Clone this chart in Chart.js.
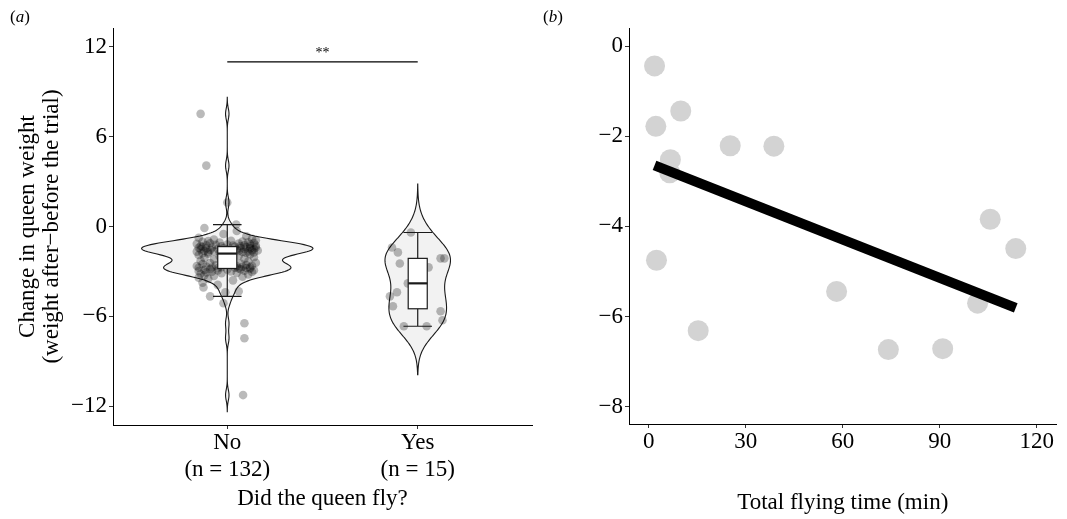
<!DOCTYPE html>
<html>
<head>
<meta charset="utf-8">
<script src="https://cdn.jsdelivr.net/npm/chart.js@4.4.1/dist/chart.umd.min.js"></script>
<style>
    html, body { margin: 0; padding: 0; background: #fff; }
    #wrap { position: relative; width: 1067px; height: 519px; overflow: hidden; }
    .panel { position: absolute; top: 0; height: 519px; }
    #panelA { left: 0; width: 540px; }
    #panelB { left: 540px; width: 527px; }
</style>
</head>
<body>
<div id="wrap">
    <div class="panel" id="panelA"><canvas id="violinChart"></canvas></div>
    <div class="panel" id="panelB"><canvas id="flightChart"></canvas></div>
</div>
<script>
// ---- данные панели (a) ----
const groups = ['No', 'Yes'];
// изменение веса матки, не летавшие (n = 132)
const noValues = [
    7.53, 4.07, 1.6, 0.13,
    -0.1, -0.3, -0.5, -0.65, -0.75, -0.82, -0.88, -0.92, -0.95, -0.98,
    -1.0, -1.03, -1.05, -1.08, -1.1, -1.12, -1.14, -1.16, -1.18, -1.2,
    -1.22, -1.24, -1.26, -1.27, -1.28, -1.3, -1.31, -1.32, -1.33,
    -1.35, -1.37, -1.38, -1.4, -1.4, -1.42, -1.44, -1.45, -1.46, -1.47,
    -1.48, -1.5, -1.5, -1.52, -1.53, -1.55, -1.56, -1.58, -1.6, -1.6,
    -1.62, -1.63, -1.65, -1.66, -1.68, -1.7, -1.7, -1.72, -1.74, -1.75,
    -1.77, -1.78, -1.8,
    -1.82, -1.86, -1.9, -1.95, -2.0, -2.05, -2.1, -2.15, -2.2, -2.25,
    -2.3, -2.34, -2.38, -2.42, -2.45, -2.48, -2.51, -2.54, -2.57, -2.6,
    -2.62, -2.64, -2.66, -2.68, -2.7, -2.72, -2.73, -2.74, -2.75, -2.76,
    -2.77, -2.78, -2.8,
    -11.27, -7.47, -6.47, -5.13,
    -4.67, -4.4, -4.33, -4.07, -3.9, -3.75, -3.6, -3.5, -3.42, -3.35,
    -3.3, -3.25, -3.2, -3.16, -3.12, -3.1, -3.07, -3.04, -3.02, -3.0,
    -2.98, -2.96, -2.94, -2.92, -2.9, -2.88, -2.86, -2.84, -2.82
];
// горизонтальный разброс точек (jitter), в долях категории
const noJitter = [
    -0.14, -0.11, 0.0, 0.047,
    -0.12, 0.05, -0.02, 0.1, -0.15, 0.13, -0.07, 0.15, 0.02, -0.1,
    0.08, -0.13, 0.11, -0.04, 0.14, -0.09, 0.06, -0.16, 0.12, 0.0,
    -0.06, 0.09, -0.11, 0.03, 0.15, -0.14, 0.07, -0.03, 0.12,
    0.04, -0.13, 0.1, -0.08, 0.15, -0.15, 0.07, -0.02, 0.12, -0.11,
    0.01, 0.14, -0.05, 0.09, -0.14, 0.05, -0.09, 0.13, -0.01, 0.16,
    -0.12, 0.06, -0.07, 0.11, -0.16, 0.03, 0.08, -0.1, 0.14, -0.04,
    0.1, -0.13, 0.02,
    -0.1, 0.12, -0.15, 0.06, -0.04, 0.14, -0.12, 0.09, -0.07, 0.03,
    -0.14, 0.11, -0.02, 0.15, -0.09, 0.07, -0.13, 0.01, 0.1, -0.06,
    0.13, -0.16, 0.05, -0.11, 0.08, -0.03, 0.12, -0.08, 0.04, -0.15,
    0.1, -0.05, 0.06,
    0.083, 0.09, 0.09, -0.02,
    -0.09, -0.01, 0.06, -0.125, -0.05, -0.13, 0.03, -0.1, -0.15, 0.08,
    -0.07, -0.12, 0.11, -0.14, -0.03, 0.05, -0.11, 0.13, -0.08, 0.02,
    -0.15, 0.09, -0.05, 0.14, -0.12, 0.0, 0.07, -0.09, 0.12
];
// летавшие (n = 15)
const yesValues = [-0.4, -1.4, -1.73, -2.47, -2.73, -2.13, -2.13, -4.67, -4.4, -5.33, -5.67, -6.27, -6.67, -6.67, -3.8];
const yesJitter = [-0.036, -0.135, -0.104, -0.094, 0.057, 0.12, 0.14, -0.146, -0.109, -0.13, 0.12, 0.13, -0.073, 0.047, -0.052];
const weightTicks = [-12, -6, 0, 6, 12];
const sigLabel = '**';
const sigLevel = 11;

// ---- данные панели (b) ----
const flyTime = [1.8, 2.2, 9.9, 6.7, 6.5, 25.2, 38.7, 2.4, 105.6, 113.5, 58.1, 101.7, 15.3, 74.1, 90.9];
const flyWeightChange = [-0.44, -1.78, -1.44, -2.52, -2.81, -2.21, -2.22, -4.75, -3.84, -4.49, -5.44, -5.7, -6.31, -6.73, -6.71];
const timeTicks = [0, 30, 60, 90, 120];
const changeTicks = [-8, -6, -4, -2, 0];

const FONT = "'Liberation Serif', 'DejaVu Serif', serif";
Chart.defaults.font.family = FONT;
Chart.defaults.color = '#000';

const minus = (v) => String(v).replace('-', '\u2212');

// ---- статистика: квартили, плотность ----
function quantile(sorted, p) {
    const pos = (sorted.length - 1) * p;
    const lo = Math.floor(pos);
    const hi = Math.ceil(pos);
    return sorted[lo] + (sorted[hi] - sorted[lo]) * (pos - lo);
}

function boxStats(values) {
    const s = [...values].sort((a, b) => a - b);
    const q1 = quantile(s, 0.25);
    const q3 = quantile(s, 0.75);
    const iqr = q3 - q1;
    const inside = s.filter(v => v >= q1 - 1.5 * iqr && v <= q3 + 1.5 * iqr);
    return {q1, median: quantile(s, 0.5), q3, low: inside[0], high: inside[inside.length - 1]};
}

function bandwidth(values) { // bw.nrd0 как в R
    const n = values.length;
    const mean = values.reduce((a, b) => a + b, 0) / n;
    const sd = Math.sqrt(values.reduce((a, v) => a + (v - mean) ** 2, 0) / (n - 1));
    const s = [...values].sort((a, b) => a - b);
    const iqr = quantile(s, 0.75) - quantile(s, 0.25);
    return 0.9 * Math.min(sd, iqr / 1.34) * Math.pow(n, -0.2);
}

function density(values) {
    const bw = bandwidth(values);
    const from = Math.min(...values) - 3 * bw;
    const to = Math.max(...values) + 3 * bw;
    const grid = [];
    const dens = [];
    for (let k = 0; k < 400; k++) {
        const y = from + (to - from) * k / 399;
        let sum = 0;
        for (const v of values) {
            const z = (y - v) / bw;
            sum += Math.exp(-0.5 * z * z);
        }
        grid.push(y);
        dens.push(sum / (values.length * bw * Math.sqrt(2 * Math.PI)));
    }
    return {grid, dens};
}

const groupValues = [noValues, yesValues];
const violins = groupValues.map(density);
const maxDens = Math.max(...violins.map(v => Math.max(...v.dens)));
violins.forEach(v => { v.half = v.dens.map(d => 0.45 * d / maxDens); });
const boxes = groupValues.map(boxStats);

// ---- плагин: скрипичные диаграммы и боксплоты ----
const violinPlugin = {
    id: 'violinPlugin',
    beforeDatasetsDraw(chart) {
        const {ctx, chartArea, scales: {x, y}} = chart;
        ctx.save();
        ctx.beginPath();
        ctx.rect(chartArea.left, chartArea.top, chartArea.width, chartArea.height);
        ctx.clip();
        violins.forEach((v, i) => {
            const cx = i + 1;
            ctx.beginPath();
            v.grid.forEach((g, k) => {
                const px = x.getPixelForValue(cx + v.half[k]);
                const py = y.getPixelForValue(g);
                k ? ctx.lineTo(px, py) : ctx.moveTo(px, py);
            });
            for (let k = v.grid.length - 1; k >= 0; k--) {
                ctx.lineTo(x.getPixelForValue(cx - v.half[k]), y.getPixelForValue(v.grid[k]));
            }
            ctx.closePath();
            ctx.fillStyle = '#f2f2f2';
            ctx.fill();
            ctx.strokeStyle = '#1a1a1a';
            ctx.lineWidth = 1.1;
            ctx.stroke();
        });
        ctx.restore();
    },
    afterDatasetsDraw(chart) {
        const {ctx, scales: {x, y}} = chart;
        ctx.save();
        ctx.strokeStyle = '#1a1a1a';
        boxes.forEach((b, i) => {
            const cx = i + 1;
            const px = x.getPixelForValue(cx);
            const bl = x.getPixelForValue(cx - 0.05);
            const br = x.getPixelForValue(cx + 0.05);
            const cl = x.getPixelForValue(cx - 0.075);
            const cr = x.getPixelForValue(cx + 0.075);
            ctx.lineWidth = 1.2;
            ctx.beginPath();
            ctx.moveTo(px, y.getPixelForValue(b.high));
            ctx.lineTo(px, y.getPixelForValue(b.q3));
            ctx.moveTo(px, y.getPixelForValue(b.q1));
            ctx.lineTo(px, y.getPixelForValue(b.low));
            ctx.moveTo(cl, y.getPixelForValue(b.high));
            ctx.lineTo(cr, y.getPixelForValue(b.high));
            ctx.moveTo(cl, y.getPixelForValue(b.low));
            ctx.lineTo(cr, y.getPixelForValue(b.low));
            ctx.stroke();
            const top = y.getPixelForValue(b.q3);
            const bottom = y.getPixelForValue(b.q1);
            ctx.fillStyle = '#fff';
            ctx.fillRect(bl, top, br - bl, bottom - top);
            ctx.strokeRect(bl, top, br - bl, bottom - top);
            ctx.lineWidth = 2.2;
            ctx.beginPath();
            ctx.moveTo(bl, y.getPixelForValue(b.median));
            ctx.lineTo(br, y.getPixelForValue(b.median));
            ctx.stroke();
        });
        // звездочки значимости
        ctx.fillStyle = '#000';
        ctx.font = `14px ${FONT}`;
        ctx.textAlign = 'center';
        ctx.textBaseline = 'alphabetic';
        ctx.fillText(sigLabel, x.getPixelForValue(1.5), y.getPixelForValue(sigLevel) - 5);
        ctx.restore();
    }
};

// подпись панели: (a), (b)
function panelTag(letter, left) {
    return {
        id: 'panelTag_' + letter,
        afterDraw(chart) {
            const ctx = chart.ctx;
            ctx.save();
            ctx.fillStyle = '#000';
            ctx.textBaseline = 'alphabetic';
            let x = left;
            [['(', 'normal'], [letter, 'italic'], [')', 'normal']].forEach(([t, style]) => {
                ctx.font = `${style} 17px ${FONT}`;
                ctx.fillText(t, x, 22);
                x += ctx.measureText(t).width;
            });
            ctx.restore();
        }
    };
}

const axisGrid = {display: true, drawOnChartArea: false, drawTicks: true, tickLength: 4, color: '#333', lineWidth: 1};
const axisBorder = {display: true, color: '#000', width: 1};
const tickFont = {size: 23, lineHeight: 1.15};

// ---- панель (a) ----
new Chart(document.getElementById('violinChart'), {
    type: 'scatter',
    data: {
        datasets: [
            {
                data: noValues.map((v, i) => ({x: 1 + noJitter[i], y: v})),
                backgroundColor: 'rgba(0,0,0,0.27)',
                borderWidth: 0,
                pointRadius: 4.3,
                pointHoverRadius: 4.3,
            },
            {
                data: yesValues.map((v, i) => ({x: 2 + yesJitter[i], y: v})),
                backgroundColor: 'rgba(0,0,0,0.27)',
                borderWidth: 0,
                pointRadius: 4.3,
                pointHoverRadius: 4.3,
            },
            {
                data: [{x: 1, y: sigLevel}, {x: 2, y: sigLevel}],
                showLine: true,
                borderColor: '#000',
                borderWidth: 1.2,
                pointRadius: 0,
            },
        ],
    },
    options: {
        responsive: true,
        maintainAspectRatio: false,
        animation: false,
        layout: {padding: {top: 28, right: 8, left: 0, bottom: 0}},
        plugins: {legend: {display: false}, tooltip: {enabled: false}},
        scales: {
            x: {
                type: 'linear',
                min: 0.4,
                max: 2.6,
                afterBuildTicks: (scale) => { scale.ticks = groups.map((g, i) => ({value: i + 1})); },
                afterFit: (scale) => { scale.height = 94; },
                ticks: {
                    autoSkip: false,
                    maxRotation: 0,
                    padding: 1,
                    font: tickFont,
                    callback: (value) => {
                        const i = Math.round(value) - 1;
                        return [groups[i], `(n = ${groupValues[i].length})`];
                    },
                },
                grid: axisGrid,
                border: axisBorder,
                title: {display: true, text: 'Did the queen fly?', font: {size: 23, lineHeight: 1.2}, padding: {top: 0, bottom: 6}},
            },
            y: {
                min: -13.27,
                max: 13.27,
                afterBuildTicks: (scale) => { scale.ticks = weightTicks.map(v => ({value: v})); },
                afterFit: (scale) => { scale.width = 113; },
                ticks: {padding: 2, font: tickFont, callback: (v) => minus(v)},
                grid: axisGrid,
                border: axisBorder,
                title: {
                    display: true,
                    text: ['Change in queen weight', '(weight after\u2212before the trial)'],
                    font: {size: 23, lineHeight: 1.05},
                    padding: {top: 16, bottom: 0},
                },
            },
        },
    },
    plugins: [violinPlugin, panelTag('a', 10)],
});

// ---- панель (b): линейная регрессия ----
function linearFit(xs, ys) {
    const n = xs.length;
    const mx = xs.reduce((a, b) => a + b, 0) / n;
    const my = ys.reduce((a, b) => a + b, 0) / n;
    let sxy = 0, sxx = 0;
    xs.forEach((x, i) => { sxy += (x - mx) * (ys[i] - my); sxx += (x - mx) ** 2; });
    const slope = sxy / sxx;
    return {slope, intercept: my - slope * mx};
}
const fit = linearFit(flyTime, flyWeightChange);
const tMin = Math.min(...flyTime);
const tMax = Math.max(...flyTime);

new Chart(document.getElementById('flightChart'), {
    type: 'scatter',
    data: {
        datasets: [
            {
                data: [{x: tMin, y: fit.intercept + fit.slope * tMin}, {x: tMax, y: fit.intercept + fit.slope * tMax}],
                showLine: true,
                borderColor: '#000',
                borderWidth: 10,
                borderCapStyle: 'butt',
                pointRadius: 0,
                order: 0,
            },
            {
                data: flyTime.map((t, i) => ({x: t, y: flyWeightChange[i]})),
                backgroundColor: '#d3d3d3',
                borderWidth: 0,
                pointRadius: 10.5,
                pointHoverRadius: 10.5,
                order: 1,
            },
        ],
    },
    options: {
        responsive: true,
        maintainAspectRatio: false,
        animation: false,
        layout: {padding: {top: 28, right: 4, left: 0, bottom: 0}},
        plugins: {legend: {display: false}, tooltip: {enabled: false}},
        scales: {
            x: {
                type: 'linear',
                min: -6.1,
                max: 126.1,
                afterBuildTicks: (scale) => { scale.ticks = timeTicks.map(v => ({value: v})); },
                afterFit: (scale) => { scale.height = 95; },
                ticks: {autoSkip: false, maxRotation: 0, padding: 1, font: tickFont},
                grid: axisGrid,
                border: axisBorder,
                title: {display: true, text: 'Total flying time (min)', font: {size: 23, lineHeight: 1.2}, padding: {top: 0, bottom: 2}},
            },
            y: {
                min: -8.38,
                max: 0.4,
                afterBuildTicks: (scale) => { scale.ticks = changeTicks.map(v => ({value: v})); },
                afterFit: (scale) => { scale.width = 89; },
                ticks: {padding: 2, font: tickFont, callback: (v) => minus(v)},
                grid: axisGrid,
                border: axisBorder,
            },
        },
    },
    plugins: [panelTag('b', 3)],
});
</script>
</body>
</html>
